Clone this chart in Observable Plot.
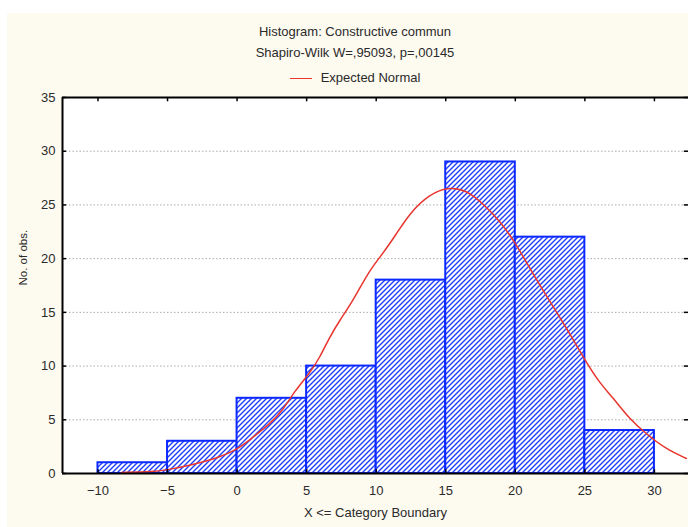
<!DOCTYPE html>
<html><head><meta charset="utf-8">
<script src="https://cdn.jsdelivr.net/npm/d3@7"></script>
<script src="https://cdn.jsdelivr.net/npm/@observablehq/plot@0.6"></script>
<style>
body{margin:0;background:#fff;width:688px;height:527px;overflow:hidden;position:relative;font-family:"Liberation Sans",Arial,sans-serif;color:#2a2a2a}
#bg{position:absolute;left:7px;top:13px;right:0;bottom:0;background:#fdfaf0}
.t{position:absolute;left:0;width:710px;text-align:center;line-height:16px;font-size:13px;z-index:2}
.leg{display:inline-flex;align-items:center}
.leg .ln{display:inline-block;width:22px;height:1.5px;background:#e8352e;margin-right:9px}
#chart{position:absolute;left:0;top:80px}
</style></head>
<body>
<div id="bg"></div>
<div class="t" style="top:24px">Histogram: Constructive commun</div>
<div class="t" style="top:45px">Shapiro-Wilk W=,95093, p=,00145</div>
<div class="t" style="top:67px"><span class="leg"><span class="ln"></span>Expected Normal</span></div>
<div id="chart"></div>
<script>
// Histogram bins (X <= category boundary)
const binStart = [-10, -5, 0, 5, 10, 15, 20, 25];
const binEnd = [-5, 0, 5, 10, 15, 20, 25, 30];
const counts = [1, 3, 7, 10, 18, 29, 22, 4];

// Expected normal curve
const normalX = [-8.3, -6.0, -5.0, -3.4, -1.5, 0.0, 1.15, 2.35, 3.3, 4.15, 5.2, 5.95, 6.65, 7.35, 8.35, 9.5, 10.5, 11.45, 12.4, 13.8, 15.3, 16.5, 17.7, 18.9, 20.05, 21.25, 22.45, 23.65, 24.85, 26.0, 27.0, 28.2, 29.4, 30.8, 32.3];
const normalY = [0.1, 0.15, 0.35, 0.75, 1.4, 2.2, 3.4, 4.6, 5.9, 7.7, 9.3, 10.8, 12.7, 14.2, 16.1, 18.9, 20.5, 22.3, 24.2, 26.0, 26.7, 26.35, 25.1, 23.5, 21.4, 18.6, 16.1, 13.6, 10.9, 8.5, 7.1, 5.1, 3.7, 2.3, 1.4];

const xTicks = [-10, -5, 0, 5, 10, 15, 20, 25, 30];
const yTicks = [0, 5, 10, 15, 20, 25, 30, 35];
const gridY = [5, 10, 15, 20, 25, 30];
const xLabel = "X <= Category Boundary";
const yLabel = "No. of obs.";

const xMin = -12.55, xMax = 32.45, yMin = 0, yMax = 35;

const bars = binStart.map((s, i) => ({x1: s, x2: binEnd[i], y1: 0, y2: counts[i]}));
const normal = normalX.map((x, i) => ({x, y: normalY[i]}));

const svg = Plot.plot({
  width: 688, height: 447,
  marginLeft: 62, marginRight: 0, marginTop: 17, marginBottom: 54,
  style: {background: "transparent", fontSize: "13px", fontFamily: "'Liberation Sans', Arial, sans-serif", color: "#2a2a2a", overflow: "visible"},
  x: {domain: [xMin, xMax]},
  y: {domain: [yMin, yMax]},
  marks: [
    Plot.frame({fill: "white", stroke: null}),
    Plot.ruleY(gridY, {stroke: "#aaa", strokeWidth: 1, strokeDasharray: "1.5,2"}),
    Plot.rect(bars, {x1: "x1", x2: "x2", y1: "y1", y2: "y2", fill: "url(#hatch)", stroke: "#0a28ff", strokeWidth: 2}),
    Plot.line(normal, {x: "x", y: "y", stroke: "#e8352e", strokeWidth: 1.5, curve: "basis"}),
    Plot.ruleX([xMin], {stroke: "black", strokeWidth: 2}),
    Plot.ruleY([yMin, yMax], {stroke: "black", strokeWidth: 2}),
    Plot.ruleY(yTicks, {x1: xMin, x2: xMin + 0.3, stroke: "black", strokeWidth: 1.5}),
    Plot.ruleY(yTicks, {x1: xMax - 0.3, x2: xMax, stroke: "black", strokeWidth: 1.5}),
    Plot.ruleX(xTicks, {y1: yMax, y2: yMax - 0.4, stroke: "black", strokeWidth: 1.5}),
    Plot.ruleX(xTicks, {y1: yMin, y2: yMin + 0.35, stroke: "black", strokeWidth: 1.5}),
    Plot.axisX({ticks: xTicks, tickSize: 0, tickPadding: 12, label: null}),
    Plot.axisY({ticks: yTicks, tickSize: 0, tickPadding: 7, label: null}),
    Plot.text([xLabel], {frameAnchor: "bottom", dy: 43, fontSize: 13}),
    Plot.text([yLabel], {frameAnchor: "left", dx: -39, rotate: -90, fontSize: 11.5})
  ]
});

const defs = d3.select(svg).insert("defs", ":first-child");
const p = defs.append("pattern").attr("id", "hatch").attr("patternUnits", "userSpaceOnUse").attr("width", 5).attr("height", 5);
p.append("rect").attr("width", 5).attr("height", 5).attr("fill", "white");
p.append("path").attr("d", "M-1,1L1,-1M0,5L5,0M4,6L6,4").attr("stroke", "#1f3dff").attr("stroke-width", 1.4);

document.getElementById("chart").appendChild(svg);
</script>
</body></html>
